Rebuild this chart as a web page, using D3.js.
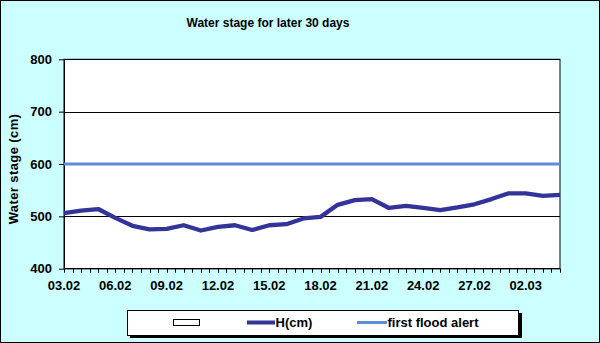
<!DOCTYPE html>
<html>
<head>
<meta charset="utf-8">
<script src="https://cdn.jsdelivr.net/npm/d3@7"></script>
<style>
  html, body { margin: 0; padding: 0; background: #ccffff; }
  svg { display: block; }
  text { font-family: "Liberation Sans", Arial, sans-serif; font-weight: bold; fill: #000; }
</style>
</head>
<body>
<svg id="chart" width="600" height="343"></svg>
<script>
// Daily observation dates (dd.mm)
const days = [
  "03.02","04.02","05.02","06.02","07.02","08.02","09.02","10.02","11.02","12.02",
  "13.02","14.02","15.02","16.02","17.02","18.02","19.02","20.02","21.02","22.02",
  "23.02","24.02","25.02","26.02","27.02","28.02","01.03","02.03","03.03","04.03"
];
// Measured water stage H, cm
const stageH = [
  506, 511, 514, 497, 482, 475, 476, 483, 473, 480,
  483, 474, 483, 485, 496, 499, 522, 531, 533, 516,
  520, 516, 512, 517, 523, 533, 544, 544, 539, 541
];
// First flood alert level, cm
const floodAlert = days.map(() => 600);
// Axis ticks
const yTicks = [400, 500, 600, 700, 800];
const xLabelDays = ["03.02","06.02","09.02","12.02","15.02","18.02","21.02","24.02","27.02","02.03"];
const legendNames = ["", "H(cm)", "first flood alert"];

const W = 600, H = 343;
const plot = { left: 64, right: 560, top: 59.3, bottom: 268.7 };
const colH = "#333399", colAlert = "#5b8ed6";

const svg = d3.select("#chart");

// Chart background and frame
svg.append("rect")
  .attr("x", 0.5).attr("y", 0.5).attr("width", W - 1).attr("height", H - 1)
  .attr("fill", "#ccffff").attr("stroke", "#000").attr("stroke-width", 1);

// Title
svg.append("text")
  .attr("x", 268).attr("y", 27)
  .attr("text-anchor", "middle").attr("font-size", 12)
  .text("Water stage for later 30 days");

const x = d3.scalePoint().domain(days).range([plot.left, plot.right]);
const y = d3.scaleLinear().domain([400, 800]).range([plot.bottom, plot.top]);

// Plot area
svg.append("rect")
  .attr("x", plot.left).attr("y", plot.top)
  .attr("width", plot.right - plot.left).attr("height", plot.bottom - plot.top)
  .attr("fill", "#fff").attr("stroke", "#000").attr("stroke-width", 1);

// Horizontal gridlines
svg.append("g").selectAll("line")
  .data(yTicks.slice(1))
  .join("line")
  .attr("x1", plot.left).attr("x2", plot.right)
  .attr("y1", d => Math.round(y(d)) + 0.5).attr("y2", d => Math.round(y(d)) + 0.5)
  .attr("stroke", "#000").attr("stroke-width", 1);

// Y axis
const yAxis = d3.axisLeft(y).tickValues(yTicks).tickSizeInner(5).tickSizeOuter(0).tickPadding(7);
const gy = svg.append("g").attr("transform", `translate(${plot.left},0)`).call(yAxis);
gy.selectAll("text").attr("font-size", 13).style("font-family", "Liberation Sans, Arial, sans-serif").style("font-weight", "bold");
gy.select(".domain").attr("stroke", "#000");

// X axis: a tick at every half day, labels every third day
const step = x.step();
const halfTicks = d3.range(0, (days.length - 1) * 2 + 1).map(k => plot.left + k * step / 2);
svg.append("g").selectAll("line")
  .data(halfTicks)
  .join("line")
  .attr("x1", d => Math.round(d) + 0.5).attr("x2", d => Math.round(d) + 0.5)
  .attr("y1", plot.bottom).attr("y2", plot.bottom + 4)
  .attr("stroke", "#000").attr("stroke-width", 1);
svg.append("line")
  .attr("x1", plot.left).attr("x2", plot.right)
  .attr("y1", plot.bottom).attr("y2", plot.bottom)
  .attr("stroke", "#000").attr("stroke-width", 1.2);
svg.append("g").selectAll("text")
  .data(xLabelDays)
  .join("text")
  .attr("x", d => x(d)).attr("y", 290)
  .attr("text-anchor", "middle").attr("font-size", 13)
  .text(d => d);

// Y axis title
svg.append("text")
  .attr("transform", "translate(18,169) rotate(-90)")
  .attr("text-anchor", "middle").attr("font-size", 13)
  .attr("letter-spacing", 0.4)
  .text("Water stage (cm)");

// Series lines
const line = d3.line().x((d, i) => x(days[i])).y(d => y(d));
svg.append("path")
  .datum(floodAlert)
  .attr("d", line)
  .attr("fill", "none").attr("stroke", colAlert).attr("stroke-width", 3);
svg.append("path")
  .datum(stageH)
  .attr("d", line)
  .attr("fill", "none").attr("stroke", colH).attr("stroke-width", 4.3)
  .attr("stroke-linejoin", "round");

// Legend with drop shadow
const lg = svg.append("g");
lg.append("rect").attr("x", 130).attr("y", 313).attr("width", 392).attr("height", 25).attr("fill", "#000");
lg.append("rect").attr("x", 127.5).attr("y", 310.5).attr("width", 391).attr("height", 25)
  .attr("fill", "#fff").attr("stroke", "#000").attr("stroke-width", 1);
lg.append("rect").attr("x", 173.5).attr("y", 319.5).attr("width", 26).attr("height", 6)
  .attr("fill", "none").attr("stroke", "#000").attr("stroke-width", 1);
lg.append("line").attr("x1", 247).attr("x2", 275).attr("y1", 322.5).attr("y2", 322.5)
  .attr("stroke", colH).attr("stroke-width", 4);
lg.append("text").attr("x", 275.5).attr("y", 327).attr("font-size", 13).text(legendNames[1]);
lg.append("line").attr("x1", 357).attr("x2", 387).attr("y1", 322.5).attr("y2", 322.5)
  .attr("stroke", colAlert).attr("stroke-width", 3);
lg.append("text").attr("x", 387.5).attr("y", 327).attr("font-size", 13).text(legendNames[2]);
</script>
</body>
</html>
